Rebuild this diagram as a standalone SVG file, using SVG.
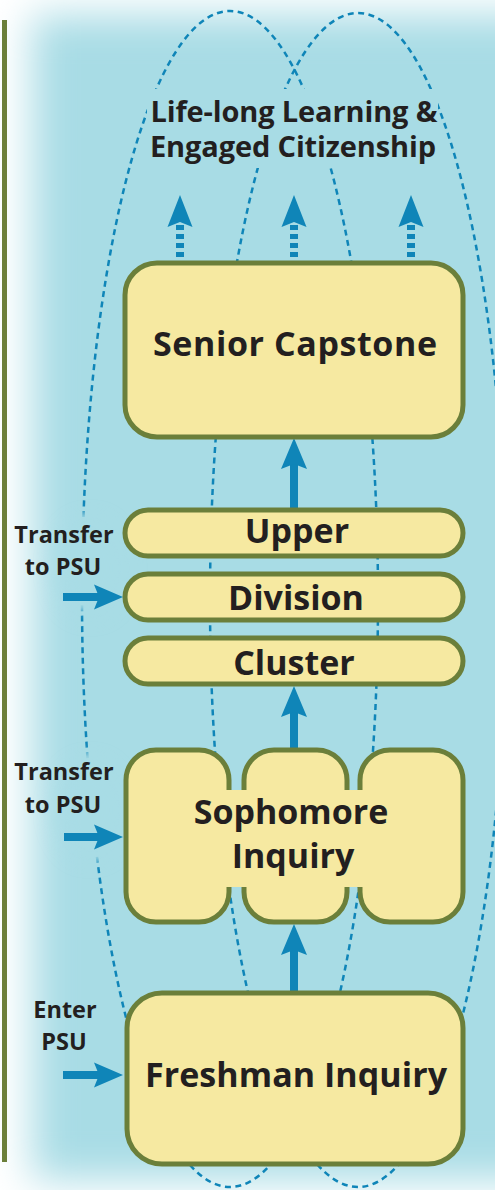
<svg xmlns="http://www.w3.org/2000/svg" width="495" height="1190" viewBox="0 0 495 1190">
<defs>
<style>
.box{fill:#f6e9a1;stroke:#6b7f3a;stroke-width:5}
.big{font-family:"Open Sans","Liberation Sans",sans-serif;font-weight:700;font-size:34px;fill:#231f20;text-anchor:middle}
.sm{font-family:"Open Sans","Liberation Sans",sans-serif;font-weight:700;font-size:23.5px;fill:#231f20;text-anchor:middle}
.top{font-family:"Open Sans","Liberation Sans",sans-serif;font-weight:700;font-size:29px;fill:#231f20;text-anchor:middle}
.loop{fill:none;stroke:#0f85b8;stroke-width:2.5;stroke-dasharray:6 4.5}
.ar{fill:#0f85b8}
.sh{stroke:#0f85b8;stroke-width:8;fill:none}
.dsh{stroke:#0f85b8;stroke-width:8;fill:none;stroke-dasharray:5 4}
</style>
<filter id="bl" filterUnits="userSpaceOnUse" x="-200" y="-200" width="900" height="1600"><feGaussianBlur stdDeviation="20"/></filter>
<filter id="bl2" filterUnits="userSpaceOnUse" x="-200" y="-200" width="900" height="1600"><feGaussianBlur stdDeviation="10"/></filter>
<filter id="bl3" filterUnits="userSpaceOnUse" x="-200" y="-200" width="900" height="1600"><feGaussianBlur stdDeviation="4"/></filter>
<mask id="m" maskUnits="userSpaceOnUse" x="0" y="0" width="495" height="1190">
<rect x="0" y="0" width="495" height="1190" fill="#fff"/>
<rect x="147" y="89" width="291" height="79" fill="#000"/>
<ellipse cx="72" cy="562" rx="60" ry="50" fill="#000" filter="url(#bl3)"/>
<ellipse cx="76" cy="808" rx="62" ry="57" fill="#000" filter="url(#bl3)"/>
</mask>
</defs>
<g id="background">
<rect x="0" y="0" width="495" height="1190" fill="#ffffff"/>
<rect x="32" y="15" width="540" height="1165" fill="#a8dce5" filter="url(#bl)"/>
<ellipse cx="90" cy="568" rx="36" ry="48" fill="#a8dce5" opacity="0.5" filter="url(#bl2)"/>
<ellipse cx="90" cy="810" rx="36" ry="48" fill="#a8dce5" opacity="0.5" filter="url(#bl2)"/>
<line x1="4.5" y1="20" x2="4.5" y2="1162" stroke="#6b7f3a" stroke-width="5"/>
</g>
<g id="loops" mask="url(#m)">
<ellipse class="loop" cx="230" cy="599" rx="148" ry="588"/>
<ellipse class="loop" cx="358" cy="600" rx="148" ry="587"/>
</g>
<g id="goal">
<text class="top" x="294" y="122" textLength="287" lengthAdjust="spacing">Life-long Learning &amp;</text>
<text class="top" x="293" y="157" textLength="286" lengthAdjust="spacing">Engaged Citizenship</text>
</g>
<g id="connectors">
<line class="dsh" x1="180" y1="225" x2="180" y2="262"/>
<polygon class="ar" points="180,195 192.5,227 180,222 167.5,227"/>
<line class="dsh" x1="294" y1="225" x2="294" y2="262"/>
<polygon class="ar" points="294,195 306.5,227 294,222 281.5,227"/>
<line class="dsh" x1="411" y1="225" x2="411" y2="262"/>
<polygon class="ar" points="411,195 423.5,227 411,222 398.5,227"/>
<line class="sh" x1="294" y1="462" x2="294" y2="509"/>
<polygon class="ar" points="294,438 307,469 294,464 281,469"/>
<line class="sh" x1="294" y1="710" x2="294" y2="750"/>
<polygon class="ar" points="294,686 307,717 294,712 281,717"/>
<line class="sh" x1="294" y1="948" x2="294" y2="993"/>
<polygon class="ar" points="294,924 307,955 294,950 281,955"/>
<line class="sh" x1="63" y1="597" x2="100" y2="597"/>
<polygon class="ar" points="123,597 94,584.5 99,597 94,609.5"/>
<line class="sh" x1="64" y1="837" x2="100" y2="837"/>
<polygon class="ar" points="123,837 94,824.5 99,837 94,849.5"/>
<line class="sh" x1="63" y1="1075" x2="100" y2="1075"/>
<polygon class="ar" points="123,1075 94,1062.5 99,1075 94,1087.5"/>
</g>
<g id="senior-capstone">
<rect class="box" x="125" y="263" width="338" height="174" rx="32"/>
<text class="big" x="295" y="356" textLength="284" lengthAdjust="spacing">Senior Capstone</text>
</g>
<g id="upper">
<rect class="box" x="125" y="510" width="338" height="46" rx="23"/>
<text class="big" x="297" y="543">Upper</text>
</g>
<g id="division">
<rect class="box" x="125" y="574" width="338" height="46" rx="23"/>
<text class="big" x="296" y="610">Division</text>
</g>
<g id="cluster">
<rect class="box" x="125" y="638" width="338" height="46" rx="23"/>
<text class="big" x="294" y="675">Cluster</text>
</g>
<g id="sophomore-inquiry">
<rect class="box" x="126" y="750" width="103" height="172" rx="30"/>
<rect class="box" x="244" y="750" width="103" height="172" rx="30"/>
<rect class="box" x="360" y="750" width="103" height="172" rx="30"/>
<rect x="225" y="790" width="140" height="97" fill="#f6e9a1"/>
<text class="big" x="291" y="824">Sophomore</text>
<text class="big" x="293" y="868">Inquiry</text>
</g>
<g id="freshman-inquiry">
<rect class="box" x="127" y="993" width="336" height="171" rx="35"/>
<text class="big" x="296" y="1087" textLength="302" lengthAdjust="spacing">Freshman Inquiry</text>
</g>
<g id="entry-labels">
<text class="sm" x="64" y="543">Transfer</text>
<text class="sm" x="63" y="575">to PSU</text>
<text class="sm" x="64" y="780">Transfer</text>
<text class="sm" x="63" y="813">to PSU</text>
<text class="sm" x="65" y="1018">Enter</text>
<text class="sm" x="64" y="1050">PSU</text>
</g>
</svg>
